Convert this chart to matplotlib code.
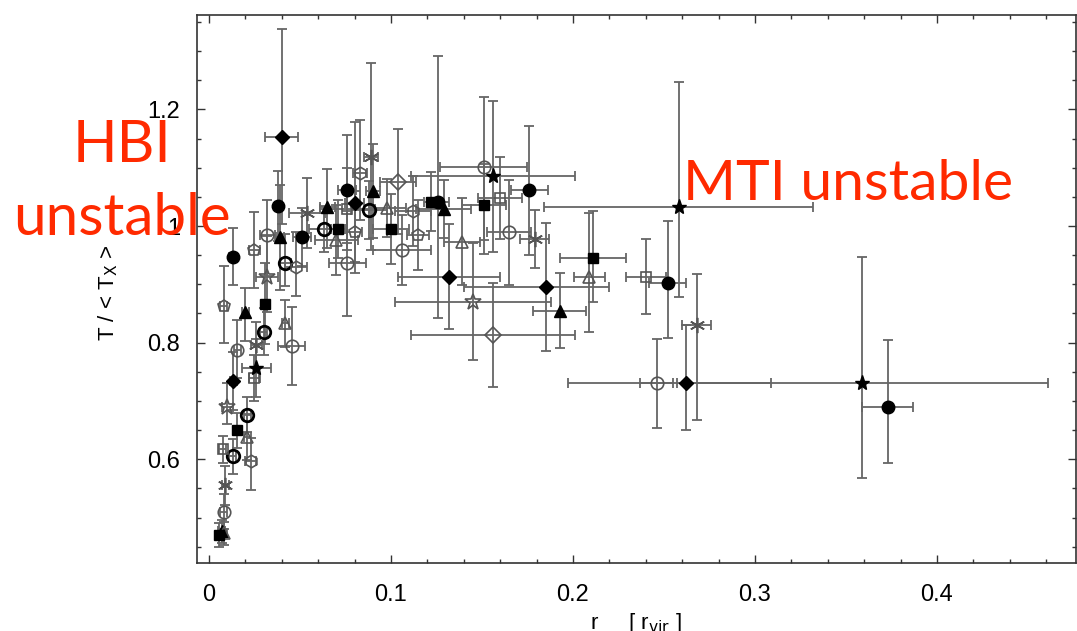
import matplotlib
matplotlib.use('Agg')
import matplotlib.pyplot as plt
from matplotlib.ticker import MultipleLocator, FuncFormatter

# r / r_vir, T / <T_X>, errors
r = [0.040, 0.038, 0.013, 0.025, 0.032, 0.039, 0.042, 0.048, 0.032, 0.031,
     0.020, 0.008, 0.051, 0.054, 0.065, 0.063, 0.071, 0.070, 0.076, 0.080,
     0.076, 0.080, 0.083, 0.088, 0.090, 0.089, 0.098, 0.076, 0.104, 0.100,
     0.112, 0.115, 0.106, 0.126, 0.129, 0.151, 0.156, 0.151, 0.160, 0.176,
     0.165, 0.179, 0.132, 0.145, 0.185, 0.156, 0.193, 0.139, 0.258, 0.211,
     0.209, 0.240, 0.252, 0.268, 0.246, 0.262, 0.359, 0.373, 0.122, 0.0057,
     0.008, 0.007, 0.008, 0.009, 0.0075, 0.013, 0.023, 0.021, 0.0156, 0.021,
     0.010, 0.0134, 0.025, 0.026, 0.026, 0.0156, 0.030, 0.042, 0.0454]
t = [1.153, 1.034, 0.947, 0.959, 0.985, 0.981, 0.937, 0.930, 0.913, 0.867,
     0.853, 0.862, 0.981, 1.022, 1.033, 0.995, 0.995, 0.976, 1.061, 1.039,
     1.029, 0.990, 1.091, 1.027, 1.060, 1.119, 1.031, 0.936, 1.076, 0.995,
     1.026, 0.985, 0.959, 1.042, 1.029, 1.102, 1.085, 1.036, 1.048, 1.061,
     0.989, 0.978, 0.913, 0.870, 0.895, 0.813, 0.855, 0.973, 1.033, 0.945,
     0.913, 0.913, 0.903, 0.830, 0.730, 0.730, 0.730, 0.690, 1.042, 0.470,
     0.473, 0.476, 0.510, 0.556, 0.617, 0.605, 0.597, 0.638, 0.650, 0.676,
     0.690, 0.734, 0.739, 0.756, 0.796, 0.788, 0.819, 0.833, 0.794]
r_err_lo = [0.009, 0.002, 0.002, 0.003, 0.004, 0.002, 0.003, 0.006, 0.006, 0.002,
            0.002, 0.002, 0.005, 0.010, 0.004, 0.008, 0.004, 0.012, 0.005, 0.005,
            0.015, 0.004, 0.004, 0.010, 0.004, 0.004, 0.010, 0.010, 0.010, 0.010,
            0.010, 0.006, 0.016, 0.006, 0.015, 0.024, 0.045, 0.012, 0.012, 0.010,
            0.012, 0.008, 0.028, 0.043, 0.045, 0.045, 0.015, 0.010, 0.074, 0.018,
            0.0085, 0.011, 0.010, 0.008, 0.009, 0.065, 0.102, 0.014, 0.004, 0.002,
            0.002, 0.002, 0.002, 0.002, 0.002, 0.002, 0.003, 0.002, 0.002, 0.002,
            0.003, 0.002, 0.003, 0.008, 0.003, 0.002, 0.002, 0.002, 0.0074]
r_err_hi = [0.009, 0.002, 0.002, 0.003, 0.004, 0.002, 0.003, 0.006, 0.006, 0.002,
            0.002, 0.002, 0.005, 0.010, 0.004, 0.008, 0.004, 0.012, 0.005, 0.005,
            0.015, 0.004, 0.004, 0.010, 0.004, 0.004, 0.010, 0.010, 0.010, 0.010,
            0.010, 0.006, 0.016, 0.006, 0.015, 0.024, 0.045, 0.012, 0.012, 0.010,
            0.012, 0.008, 0.028, 0.043, 0.035, 0.045, 0.014, 0.010, 0.074, 0.018,
            0.0085, 0.011, 0.010, 0.008, 0.009, 0.047, 0.102, 0.014, 0.004, 0.002,
            0.002, 0.002, 0.002, 0.002, 0.002, 0.002, 0.003, 0.002, 0.002, 0.002,
            0.003, 0.002, 0.003, 0.008, 0.003, 0.002, 0.002, 0.002, 0.0074]
t_err_lo = [0.15, 0.06, 0.048, 0.065, 0.07, 0.09, 0.04, 0.05, 0.06, 0.07,
            0.05, 0.062, 0.05, 0.06, 0.07, 0.04, 0.05, 0.06, 0.09, 0.10,
            0.07, 0.07, 0.08, 0.05, 0.08, 0.16, 0.05, 0.09, 0.09, 0.06,
            0.06, 0.06, 0.06, 0.20, 0.05, 0.15, 0.13, 0.06, 0.07, 0.11,
            0.09, 0.05, 0.09, 0.10, 0.11, 0.09, 0.065, 0.075, 0.154, 0.075,
            0.094, 0.064, 0.095, 0.163, 0.077, 0.08, 0.163, 0.097, 0.05, 0.02,
            0.02, 0.02, 0.03, 0.035, 0.023, 0.03, 0.05, 0.04, 0.03, 0.03,
            0.03, 0.05, 0.04, 0.05, 0.04, 0.048, 0.04, 0.04, 0.067]
t_err_hi = [0.185, 0.06, 0.05, 0.065, 0.06, 0.09, 0.05, 0.06, 0.07, 0.07,
            0.04, 0.07, 0.05, 0.06, 0.065, 0.04, 0.05, 0.06, 0.095, 0.14,
            0.07, 0.07, 0.09, 0.05, 0.08, 0.16, 0.05, 0.09, 0.09, 0.06,
            0.06, 0.06, 0.06, 0.25, 0.05, 0.12, 0.13, 0.07, 0.07, 0.11,
            0.09, 0.05, 0.09, 0.10, 0.11, 0.09, 0.065, 0.075, 0.214, 0.08,
            0.11, 0.064, 0.105, 0.087, 0.077, 0.10, 0.216, 0.115, 0.05, 0.02,
            0.02, 0.02, 0.03, 0.033, 0.023, 0.03, 0.04, 0.04, 0.03, 0.03,
            0.04, 0.05, 0.04, 0.05, 0.04, 0.05, 0.04, 0.04, 0.067]
# cluster symbol codes
symbol = ['fd', 'fc', 'fc', 'gp', 'gc', 'ft', 'tc', 'gh', 'ga', 'fs',
          'ft', 'gp', 'fc', 'gx', 'ft', 'tc', 'fs', 'gt', 'fc', 'fd',
          'gs', 'gp', 'gh', 'tc', 'ft', 'gx', 'gt', 'gc', 'gd', 'fs',
          'gh', 'gp', 'gc', 'fc', 'ft', 'gc', 'fa', 'fs', 'gs', 'fc',
          'gc', 'gx', 'fd', 'ga', 'fd', 'gd', 'ft', 'gt', 'fa', 'fs',
          'gt', 'gs', 'fc', 'gx', 'gc', 'fd', 'fa', 'fc', 'fs', 'fs',
          'gt', 'ft', 'gc', 'gx', 'gs', 'tc', 'gh', 'gt', 'fs', 'tc',
          'ga', 'fd', 'gs', 'fa', 'gx', 'gc', 'tc', 'gt', 'gc']

grey = '#555555'
styles = {
    'fc': dict(marker='o', ms=9, mfc='black', mec='black'),
    'tc': dict(marker='o', ms=9, mfc='none', mec='black', mew=2.0),
    'gc': dict(marker='o', ms=9, mfc='none', mec=grey, mew=1.2),
    'gp': dict(marker='p', ms=9, mfc='none', mec=grey, mew=1.2),
    'gh': dict(marker='h', ms=9, mfc='none', mec=grey, mew=1.2),
    'ft': dict(marker='^', ms=9, mfc='black', mec='black'),
    'gt': dict(marker='^', ms=9, mfc='none', mec=grey, mew=1.2),
    'fs': dict(marker='s', ms=7, mfc='black', mec='black'),
    'gs': dict(marker='s', ms=7.5, mfc='none', mec=grey, mew=1.2),
    'fd': dict(marker='D', ms=7, mfc='black', mec='black'),
    'gd': dict(marker='D', ms=8, mfc='none', mec=grey, mew=1.2),
    'fa': dict(marker='*', ms=11, mfc='black', mec='black'),
    'ga': dict(marker='*', ms=12, mfc='none', mec=grey, mew=1.2),
    'gx': dict(marker=(6, 2, 0), ms=11, mfc='none', mec=grey, mew=1.2),
}

fig = plt.figure(figsize=(10.77, 6.31), dpi=100)
ax = fig.add_axes([0.1829, 0.1078, 0.8162, 0.8685])

ax.errorbar(r, t, xerr=[r_err_lo, r_err_hi], yerr=[t_err_lo, t_err_hi],
            fmt='none', ecolor='#666666', elinewidth=1.3, capsize=3.5,
            capthick=1.3, zorder=2)

for code, st in styles.items():
    xs = [r[i] for i in range(len(r)) if symbol[i] == code]
    ys = [t[i] for i in range(len(t)) if symbol[i] == code]
    ax.plot(xs, ys, linestyle='none', zorder=3, **st)

ax.set_xlim(-0.0066, 0.4764)
ax.set_ylim(0.422, 1.362)
ax.xaxis.set_major_locator(MultipleLocator(0.1))
ax.xaxis.set_minor_locator(MultipleLocator(0.02))
ax.yaxis.set_major_locator(MultipleLocator(0.2))
ax.yaxis.set_minor_locator(MultipleLocator(0.05))
fmt = FuncFormatter(lambda v, p: '%g' % round(v, 3))
ax.xaxis.set_major_formatter(fmt)
ax.yaxis.set_major_formatter(fmt)
ax.tick_params(which='both', direction='in', top=True, right=True,
               labelsize=17, width=1, color='#333333')
ax.tick_params(which='major', length=6)
ax.tick_params(which='minor', length=3)
ax.tick_params(axis='x', which='major', pad=15)
ax.tick_params(axis='y', which='major', pad=12)
for s in ax.spines.values():
    s.set_color('#333333')
    s.set_linewidth(1.2)
for lab in ax.get_xticklabels() + ax.get_yticklabels():
    lab.set_family('Liberation Sans')

fig.text(108 / 1077, 1 - 293 / 631, 'T / < T$_{\\rm X}$ >', rotation=90,
         ha='center', va='center', fontsize=16, family='Liberation Sans')
fig.text(636 / 1077, 1 - 629 / 631, 'r     [ r$_{\\rm vir}$ ]', ha='center',
         va='baseline', fontsize=16, family='Liberation Sans')

red = '#ff2a00'
fig.text(122 / 1077, 1 - 235 / 631, 'HBI\nunstable', ha='center',
         va='baseline', multialignment='center', fontsize=42, color=red,
         family='Lato', linespacing=1.47, zorder=5)
fig.text(683 / 1077, 1 - 200 / 631, 'MTI unstable', ha='left',
         va='baseline', fontsize=41, color=red, family='Lato', zorder=5)

fig.savefig('out.png', dpi=100)
